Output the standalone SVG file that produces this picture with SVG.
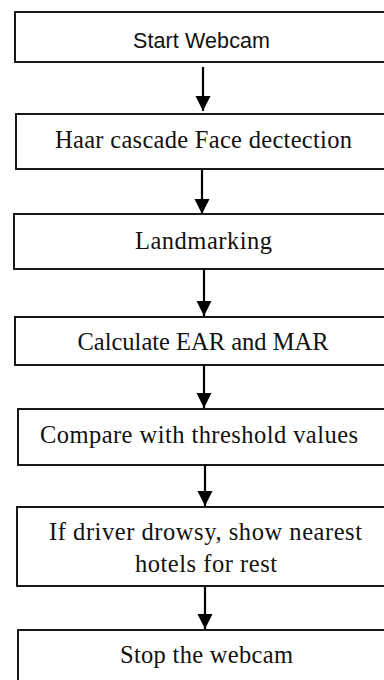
<svg xmlns="http://www.w3.org/2000/svg" width="384" height="680" viewBox="0 0 384 680">
<style>
.box{fill:#fff;stroke:#000;stroke-width:1.8}
.t{font-family:"Liberation Serif","Times New Roman",serif;font-size:24.5px;fill:#111;text-anchor:middle}
.s{font-family:"Liberation Sans",Arial,sans-serif;font-size:21.5px;fill:#111;text-anchor:middle}
.c{stroke:#000;stroke-width:2.2;fill:none;marker-end:url(#ah)}
</style>
<defs>
<marker id="ah" markerUnits="userSpaceOnUse" markerWidth="16" markerHeight="16" refX="15" refY="8" orient="auto">
<path d="M0,0.5 L15,8 L0,15.5 z" fill="#000"/>
</marker>
</defs>
<rect width="384" height="680" fill="#fff"/>
<g id="connectors">
<line class="c" x1="203" y1="67" x2="203" y2="111"/>
<line class="c" x1="202" y1="169" x2="202" y2="214"/>
<line class="c" x1="204" y1="269" x2="204" y2="316"/>
<line class="c" x1="204" y1="365" x2="204" y2="408"/>
<line class="c" x1="205" y1="465" x2="205" y2="506"/>
<line class="c" x1="205" y1="586" x2="205" y2="629"/>
</g>
<g id="n1"><rect class="box" x="15" y="12" width="380" height="50"/><text class="s" x="201.5" y="48" textLength="137">Start Webcam</text></g>
<g id="n2"><rect class="box" x="16" y="114" width="380" height="55"/><text class="t" x="203.5" y="148" textLength="297">Haar cascade Face dectection</text></g>
<g id="n3"><rect class="box" x="14" y="214" width="380" height="55"/><text class="t" x="203.5" y="249" textLength="137">Landmarking</text></g>
<g id="n4"><rect class="box" x="15" y="317" width="380" height="48"/><text class="t" x="203" y="350">Calculate EAR and MAR</text></g>
<g id="n5"><rect class="box" x="18" y="409" width="380" height="56"/><text class="t" x="199" y="443" textLength="318">Compare with threshold values</text></g>
<g id="n6"><rect class="box" x="17" y="507" width="380" height="79"/><text class="t" x="205.5" y="540" textLength="313">If driver drowsy, show nearest</text><text class="t" x="206" y="572" textLength="142">hotels for rest</text></g>
<g id="n7"><rect class="box" x="18" y="630" width="380" height="60"/><text class="t" x="206.5" y="663" textLength="173">Stop the webcam</text></g>
</svg>
